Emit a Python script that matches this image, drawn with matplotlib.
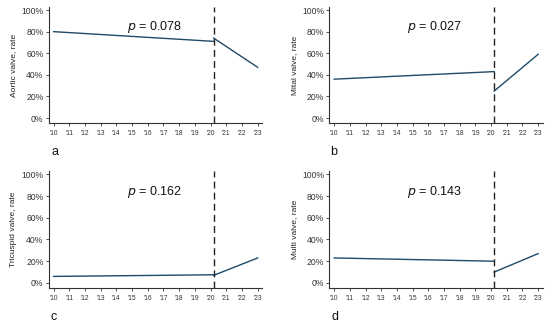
import numpy as np
import matplotlib.pyplot as plt
from matplotlib.ticker import PercentFormatter

plt.rcParams['font.family'] = ['Liberation Sans', 'DejaVu Sans']

# break point of the interrupted time series
break_year = 2020.2
years_pre = [2010, break_year]
years_post = [break_year, 2023]

aortic_pre = [0.80, 0.71]
aortic_post = [0.74, 0.47]
mitral_pre = [0.36, 0.43]
mitral_post = [0.25, 0.59]
tricuspid_pre = [0.06, 0.075]
tricuspid_post = [0.07, 0.23]
multi_pre = [0.23, 0.20]
multi_post = [0.10, 0.27]

ylabels = ['Aortic valve, rate', 'Mital valve, rate',
           'Tricuspid valve, rate', 'Multi valve, rate']
p_values = ['0.078', '0.027', '0.162', '0.143']
letters = ['a', 'b', 'c', 'd']
xtick_years = list(range(2010, 2024))
xtick_labels = ["'%02d" % (y % 100) for y in xtick_years]

series = [(aortic_pre, aortic_post), (mitral_pre, mitral_post),
          (tricuspid_pre, tricuspid_post), (multi_pre, multi_post)]

line_color = '#1f4a68'

fig = plt.figure(figsize=(5.5, 3.24), dpi=100)
positions = [
    [0.089, 0.619, 0.388, 0.36],
    [0.599, 0.619, 0.388, 0.36],
    [0.089, 0.110, 0.388, 0.362],
    [0.599, 0.110, 0.388, 0.362],
]
letter_pos = [(0.094, 0.531), (0.600, 0.531), (0.091, 0.022), (0.603, 0.022)]

for i, pos in enumerate(positions):
    ax = fig.add_axes(pos)
    pre, post = series[i]
    ax.plot(years_pre, pre, color=line_color, lw=1.0)
    ax.plot(years_post, post, color=line_color, lw=1.0)
    ax.axvline(break_year, color='#222222', lw=1.0, ls=(0, (5, 3)))

    ax.set_xlim(2009.7, 2023.3)
    ax.set_ylim(-0.05, 1.03)
    ax.set_yticks(np.arange(0, 1.01, 0.2))
    ax.yaxis.set_major_formatter(PercentFormatter(1.0, decimals=0))
    ax.set_xticks(xtick_years)
    ax.set_xticklabels(xtick_labels)
    ax.tick_params(axis='y', labelsize=6.2, length=2.5, width=0.6, pad=1.5, colors='#333333')
    ax.tick_params(axis='x', labelsize=4.8, length=2.0, width=0.6, pad=2.5, colors='#333333')
    for s in ['top', 'right']:
        ax.spines[s].set_visible(False)
    for s in ['left', 'bottom']:
        ax.spines[s].set_linewidth(0.8)
        ax.spines[s].set_color('#333333')

    ax.set_ylabel(ylabels[i], fontsize=6, labelpad=3, color='#222222')
    ax.text(2016.4, 0.84, r'$p$ = ' + p_values[i], fontsize=9,
            ha='center', va='center', color='#111111')
    fig.text(letter_pos[i][0], letter_pos[i][1], letters[i],
             fontsize=9, ha='left', va='center', color='#111111')

fig.savefig('out.png', dpi=100)
